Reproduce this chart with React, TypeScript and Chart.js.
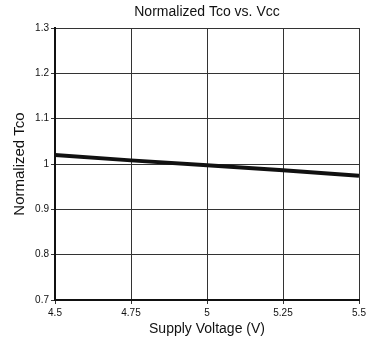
import React, { useEffect, useRef } from "react";
import { Chart, registerables } from "chart.js";

Chart.register(...registerables);

const voltages = [4.5, 4.75, 5, 5.25, 5.5];
const normalizedTco = [1.02, 1.008, 0.997, 0.986, 0.974];
const xTicks = [4.5, 4.75, 5, 5.25, 5.5];
const yTicks = [0.7, 0.8, 0.9, 1, 1.1, 1.2, 1.3];

const FONT = "'Liberation Sans', Arial, Helvetica, sans-serif";

export default function App() {
  const ref = useRef<HTMLCanvasElement | null>(null);

  useEffect(() => {
    if (!ref.current) return;
    const chart = new Chart(ref.current, {
      type: "line",
      data: {
        datasets: [
          {
            data: voltages.map((v, i) => ({ x: v, y: normalizedTco[i] })),
            borderColor: "#111",
            borderWidth: 4,
            pointRadius: 0,
            tension: 0,
            fill: false,
          },
        ],
      },
      options: {
        responsive: false,
        animation: false,
        layout: { padding: { left: 0, right: 19, top: 0, bottom: 0 } },
        plugins: {
          legend: { display: false },
          tooltip: { enabled: false },
          title: {
            display: true,
            text: "Normalized Tco vs. Vcc",
            fullSize: false,
            color: "#111",
            font: { family: FONT, size: 14, weight: "normal", lineHeight: 1.2 },
            padding: { top: 3.6, bottom: 7.6 },
          },
        },
        scales: {
          x: {
            type: "linear",
            min: 4.5,
            max: 5.5,
            afterBuildTicks: (s: any) => {
              s.ticks = xTicks.map((v) => ({ value: v }));
            },
            afterFit: (s: any) => {
              s.height = 44;
            },
            ticks: {
              color: "#111",
              font: { family: FONT, size: 10 },
              padding: 3,
              maxRotation: 0,
              callback: (v: any) => String(v),
            },
            grid: { color: "#333", lineWidth: 1, tickLength: 4 },
            border: { color: "#111", width: 2 },
            title: {
              display: true,
              text: "Supply Voltage (V)",
              color: "#111",
              font: { family: FONT, size: 14, lineHeight: 1.2 },
              padding: { top: 0, bottom: 6 },
            },
          },
          y: {
            type: "linear",
            min: 0.7,
            max: 1.3,
            afterBuildTicks: (s: any) => {
              s.ticks = yTicks.map((v) => ({ value: v }));
            },
            afterFit: (s: any) => {
              s.width = 55;
            },
            ticks: {
              color: "#111",
              font: { family: FONT, size: 10 },
              padding: 2,
              callback: (v: any) => String(Math.round(v * 10) / 10),
            },
            grid: { color: "#333", lineWidth: 1, tickLength: 4 },
            border: { color: "#111", width: 2 },
            title: {
              display: true,
              text: "Normalized Tco",
              color: "#111",
              font: { family: FONT, size: 15, lineHeight: 1.2 },
              padding: { top: 11, bottom: 0 },
            },
          },
        },
      },
    });
    return () => chart.destroy();
  }, []);

  return (
    <div style={{ position: "absolute", left: 0, top: 0, width: 378, height: 344, background: "#fff" }}>
      <canvas ref={ref} width={378} height={344} style={{ display: "block" }} />
    </div>
  );
}
